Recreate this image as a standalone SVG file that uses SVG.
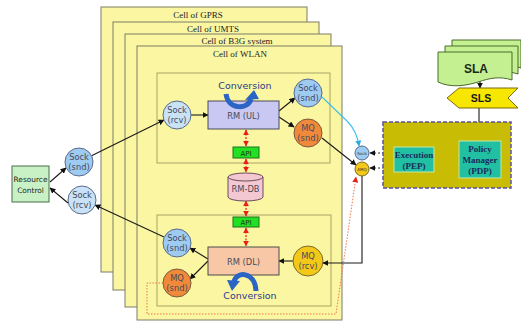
<svg xmlns="http://www.w3.org/2000/svg" width="521" height="324" viewBox="0 0 521 324">
<defs>
<style>
.card{fill:#fbf6a2;stroke:#7c7c66;stroke-width:1}
.inner{fill:none;stroke:#a9a368;stroke-width:1}
.title{font-family:"Liberation Serif",serif;font-size:9px;fill:#222;text-anchor:middle}
.node{font-family:"DejaVu Sans","Liberation Sans",sans-serif;font-size:8.3px;fill:#4a4a5a;text-anchor:middle}
.conv{font-family:"DejaVu Sans","Liberation Sans",sans-serif;font-size:9.5px;fill:#2a3a8a;text-anchor:middle}
.ln{fill:none;stroke:#1a1a1a;stroke-width:1.1}
.red{fill:none;stroke:#e8201c;stroke-width:1.2;stroke-dasharray:2,1.5}
.dash{fill:none;stroke:#333;stroke-width:1;stroke-dasharray:2,2}
.pol{font-family:"Liberation Serif",serif;font-size:9px;font-weight:bold;fill:#1a2a5a;text-anchor:middle}
.blue1{fill:#c9e2f5;stroke:#5a6a8a;stroke-width:1}
.blue2{fill:#9ecbf2;stroke:#5a6a8a;stroke-width:1}
.orange{fill:#f08a3a;stroke:#7a5a3a;stroke-width:1}
.gold{fill:#f4c818;stroke:#7a6a2a;stroke-width:1}
.api{fill:#22e022;stroke:#207020;stroke-width:1}
.apit{font-family:"DejaVu Sans","Liberation Sans",sans-serif;font-size:7px;fill:#1a3a1a;text-anchor:middle}
.convarrow{fill:none;stroke:#2a64c4;stroke-width:5}
</style>
<marker id="ah" viewBox="0 0 10 10" refX="9" refY="5" markerWidth="6" markerHeight="6" orient="auto-start-reverse" markerUnits="userSpaceOnUse"><path d="M0,0 L10,5 L0,10 Z" fill="#111"/></marker>
<marker id="ahr" viewBox="0 0 10 10" refX="9" refY="5" markerWidth="6" markerHeight="6" orient="auto-start-reverse" markerUnits="userSpaceOnUse"><path d="M0,0 L10,5 L0,10 Z" fill="#e8201c"/></marker>
<marker id="ahc" viewBox="0 0 10 10" refX="9" refY="5" markerWidth="6" markerHeight="6" orient="auto" markerUnits="userSpaceOnUse"><path d="M0,0 L10,5 L0,10 Z" fill="#2aa8e0"/></marker>
</defs>
<rect width="521" height="324" fill="#ffffff"/>

<g id="cell-gprs"><rect class="card" x="101" y="7" width="206" height="265"/><text class="title" x="198" y="18">Cell of GPRS</text></g>
<g id="cell-umts"><rect class="card" x="113" y="22" width="206" height="268"/><text class="title" x="213" y="32">Cell of UMTS</text></g>
<g id="cell-b3g"><rect class="card" x="125" y="34" width="206" height="273"/><text class="title" x="237" y="44">Cell of B3G system</text></g>
<g id="cell-wlan"><rect class="card" x="137" y="46" width="205" height="274"/><text class="title" x="240" y="57">Cell of WLAN</text></g>

<g id="ul-box"><rect class="inner" x="157" y="73" width="173" height="90"/></g>
<g id="dl-box"><rect class="inner" x="157" y="215" width="174" height="91"/></g>

<g id="connectors">
<line class="ln" x1="91" y1="156" x2="164" y2="120" marker-end="url(#ah)"/>
<line class="ln" x1="50" y1="182" x2="66" y2="168" marker-end="url(#ah)"/>
<line class="ln" x1="68" y1="203" x2="50" y2="188" marker-end="url(#ah)"/>
<line class="ln" x1="164" y1="237" x2="95" y2="205" marker-end="url(#ah)"/>
<line class="ln" x1="191" y1="115" x2="208" y2="115" marker-end="url(#ah)"/>
<line class="ln" x1="279" y1="111" x2="295" y2="98" marker-end="url(#ah)"/>
<line class="ln" x1="279" y1="117" x2="294" y2="127" marker-end="url(#ah)"/>
<line class="ln" x1="208" y1="259" x2="190" y2="248" marker-end="url(#ah)"/>
<line class="ln" x1="208" y1="261" x2="190" y2="279" marker-end="url(#ah)"/>
<line class="ln" x1="294" y1="261" x2="279" y2="261" marker-end="url(#ah)"/>
<line class="ln" x1="322" y1="138" x2="356" y2="165" marker-end="url(#ah)"/>
<polyline class="ln" points="362,176 362,263 323,263" marker-end="url(#ah)"/>
<path d="M322,97 L347,121 Q357,131 359,146" fill="none" stroke="#3cc0ec" stroke-width="1.1" marker-end="url(#ahc)"/>
<polyline points="163,283 147,283 147,314 336,314 356,177" fill="none" stroke="#f07848" stroke-width="1" stroke-dasharray="1.5,1.5" marker-end="url(#ahr)"/>
<line class="red" x1="246" y1="130" x2="246" y2="146" marker-start="url(#ahr)" marker-end="url(#ahr)"/>
<line class="red" x1="246" y1="159" x2="246" y2="172" marker-start="url(#ahr)" marker-end="url(#ahr)"/>
<line class="red" x1="246" y1="201" x2="246" y2="216" marker-start="url(#ahr)" marker-end="url(#ahr)"/>
<line class="red" x1="246" y1="228" x2="246" y2="246" marker-start="url(#ahr)" marker-end="url(#ahr)"/>
<line class="dash" x1="370" y1="153" x2="393" y2="153" marker-start="url(#ah)" marker-end="url(#ah)"/>
<line class="dash" x1="370" y1="168" x2="393" y2="168" marker-start="url(#ah)" marker-end="url(#ah)"/>
<line class="ln" x1="436" y1="160" x2="458" y2="160" marker-start="url(#ah)" marker-end="url(#ah)"/>
<line class="ln" x1="479" y1="108" x2="479" y2="140" marker-end="url(#ah)"/>
<line class="ln" x1="480" y1="80" x2="480" y2="88" marker-end="url(#ah)"/>
</g>

<g id="resource-control"><rect x="12" y="166" width="37" height="36" fill="#c8f2c6" stroke="#4a6a4a" stroke-width="1"/><text x="30.5" y="182" font-family="'DejaVu Sans','Liberation Sans',sans-serif" font-size="7.4" fill="#222" text-anchor="middle">Resource</text><text x="30.5" y="193" font-family="'DejaVu Sans','Liberation Sans',sans-serif" font-size="7.4" fill="#222" text-anchor="middle">Control</text></g>
<g id="left-sock-snd"><circle class="blue2" cx="79" cy="162" r="14"/><text class="node" x="79" y="160">Sock</text><text class="node" x="79" y="170">(snd)</text></g>
<g id="left-sock-rcv"><circle class="blue1" cx="82" cy="200" r="14"/><text class="node" x="82" y="198">Sock</text><text class="node" x="82" y="208">(rcv)</text></g>

<g id="ul-sock-rcv"><circle class="blue1" cx="177" cy="115" r="14"/><text class="node" x="177" y="113">Sock</text><text class="node" x="177" y="123">(rcv)</text></g>
<g id="rm-ul"><rect x="208" y="101" width="71" height="28" fill="#c8c8f2" stroke="#4a4a5a" stroke-width="1"/><text class="node" x="243.5" y="119" font-size="9">RM (UL)</text></g>
<g id="conv-ul"><path class="convarrow" d="M226,94 C228,110 248,110 251,99"/><polygon points="245,100 259,99 254,90" fill="#2a64c4"/><text class="conv" x="245" y="89">Conversion</text></g>
<g id="ul-sock-snd"><circle class="blue2" cx="308" cy="93" r="14"/><text class="node" x="308" y="91">Sock</text><text class="node" x="308" y="101">(snd)</text></g>
<g id="ul-mq-snd"><circle class="orange" cx="308" cy="133" r="14"/><text class="node" x="308" y="131">MQ</text><text class="node" x="308" y="141">(snd)</text></g>
<g id="api-ul"><rect class="api" x="233" y="147" width="26" height="11"/><text class="apit" x="246" y="155.5">API</text></g>
<g id="rm-db"><path d="M228,177 V197 A17.5,4 0 0 0 263,197 V177" fill="#f4c8d2" stroke="#6a4a5a" stroke-width="1"/><ellipse cx="245.5" cy="177" rx="17.5" ry="4" fill="#f4c8d2" stroke="#6a4a5a" stroke-width="1"/><text class="node" x="245.5" y="192">RM-DB</text></g>
<g id="api-dl"><rect class="api" x="233" y="217" width="26" height="10"/><text class="apit" x="246" y="225">API</text></g>
<g id="dl-sock-snd"><circle class="blue2" cx="177" cy="243" r="14"/><text class="node" x="177" y="241">Sock</text><text class="node" x="177" y="251">(snd)</text></g>
<g id="dl-mq-snd"><circle class="orange" cx="177" cy="283" r="14"/><text class="node" x="177" y="281">MQ</text><text class="node" x="177" y="291">(snd)</text></g>
<g id="rm-dl"><rect x="208" y="247" width="71" height="28" fill="#f8c8a6" stroke="#4a4a4a" stroke-width="1"/><text class="node" x="243.5" y="265" font-size="9">RM (DL)</text></g>
<g id="conv-dl"><path class="convarrow" d="M256,291 C255,271 236,271 234,282"/><polygon points="227,280 240,281 232,291" fill="#2a64c4"/><text class="conv" x="250" y="299">Conversion</text></g>
<g id="dl-mq-rcv"><circle class="gold" cx="308" cy="261" r="15"/><text class="node" x="308" y="259">MQ</text><text class="node" x="308" y="269">(rcv)</text></g>

<g id="small-sock"><circle class="blue2" cx="362" cy="153" r="7"/><text x="362" y="155" font-family="'DejaVu Sans',sans-serif" font-size="4" fill="#333" text-anchor="middle">Sock</text></g>
<g id="small-mq"><circle class="gold" cx="362" cy="169" r="7"/><text x="362" y="171" font-family="'DejaVu Sans',sans-serif" font-size="4" fill="#333" text-anchor="middle">AMQ</text></g>

<g id="policy-box"><rect x="383" y="122" width="128" height="66" fill="#c8bc04" stroke="#5a50a8" stroke-width="1.5" stroke-dasharray="4,2"/></g>
<g id="pep"><rect x="394" y="147" width="40" height="25" fill="#22c0a2" stroke="#c8e8a0" stroke-width="1"/><text class="pol" x="414" y="158">Execution</text><text class="pol" x="414" y="168.5">(PEP)</text></g>
<g id="pdp"><rect x="459" y="141" width="42" height="37" fill="#22c0a2" stroke="#c8e8a0" stroke-width="1"/><text class="pol" x="480" y="152">Policy</text><text class="pol" x="480" y="163">Manager</text><text class="pol" x="480" y="174">(PDP)</text></g>

<g id="sla">
<path d="M452,40 H521 V68 C510,64 500,66 490,70 C478,74 464,76 452,70 Z" fill="#c4f092" stroke="#4a6a2a" stroke-width="1"/>
<path d="M445,46 H518 V74 C506,70 496,72 485,76 C472,80 458,82 445,76 Z" fill="#c4f092" stroke="#4a6a2a" stroke-width="1"/>
<path d="M438,52 H512 V80 C500,76 490,78 478,82 C465,86 451,88 438,82 Z" fill="#c4f092" stroke="#4a6a2a" stroke-width="1"/>
<text x="476" y="73" font-family="'Liberation Sans',sans-serif" font-size="12" font-weight="bold" fill="#1a2a1a" text-anchor="middle">SLA</text>
</g>
<g id="sls"><polygon points="447,98 459,88 518,88 508,98 518,108 459,108" fill="#f6e600" stroke="#7a6a10" stroke-width="1"/><text x="481" y="102" font-family="'Liberation Sans',sans-serif" font-size="10.5" font-weight="bold" fill="#1a1a1a" text-anchor="middle">SLS</text></g>
</svg>
